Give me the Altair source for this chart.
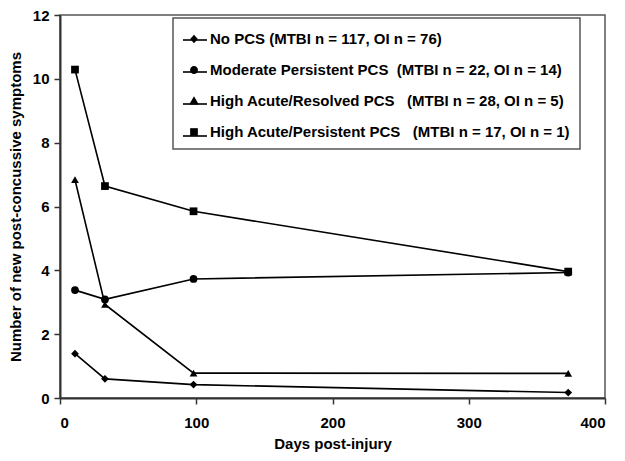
import altair as alt
import pandas as pd

days = [11, 33, 98, 373]
series_names = [
    "No PCS (MTBI n = 117, OI n = 76)",
    "Moderate Persistent PCS\u00a0\u00a0(MTBI n = 22, OI n = 14)",
    "High Acute/Resolved PCS\u00a0\u00a0\u00a0(MTBI n = 28, OI n = 5)",
    "High Acute/Persistent PCS\u00a0\u00a0\u00a0(MTBI n = 17, OI n = 1)",
]
no_pcs = [1.39, 0.60, 0.42, 0.17]
moderate = [3.38, 3.09, 3.73, 3.93]
resolved = [6.84, 2.93, 0.78, 0.77]
persistent = [10.29, 6.64, 5.85, 3.96]

point_shapes = ["diamond", "circle", "triangle-up", "square"]
legend_shapes = [
    "M0,-0.36L0.32,0L0,0.36L-0.32,0Z",
    "M-0.33,0A0.33,0.33 0 1,0 0.33,0A0.33,0.33 0 1,0 -0.33,0Z",
    "M0,-0.4L0.4,0.3L-0.4,0.3Z",
    "M-0.32,-0.32L0.32,-0.32L0.32,0.32L-0.32,0.32Z",
]

rows = []
for name, vals in zip(series_names, [no_pcs, moderate, resolved, persistent]):
    for d, v in zip(days, vals):
        rows.append({"series": name, "day": d, "value": v})
df = pd.DataFrame(rows)

FONT = "Liberation Sans"
LEG_COMMON = dict(
    title=None, orient="none", legendX=113, legendY=3,
    labelFont=FONT, labelFontSize=15, labelFontWeight="bold",
    labelLimit=500, labelOffset=4, symbolSize=576,
    rowPadding=11, padding=9,
)

x = alt.X("day:Q", title="Days post-injury",
          scale=alt.Scale(domain=[0, 400], nice=False),
          axis=alt.Axis(values=[0, 100, 200, 300, 400], labelPadding=11, titlePadding=6))
y = alt.Y("value:Q", title="Number of new post-concussive symptoms",
          scale=alt.Scale(domain=[0, 12], nice=False),
          axis=alt.Axis(values=[0, 2, 4, 6, 8, 10, 12], labelPadding=5, titlePadding=9))

base = alt.Chart(df)

lines = base.mark_line(strokeWidth=1.6).encode(
    x=x, y=y,
    color=alt.Color(
        "series:N",
        scale=alt.Scale(domain=series_names, range=["black"] * 4),
        legend=alt.Legend(
            symbolType="stroke", symbolStrokeWidth=1.6, symbolStrokeColor="black",
            labelExpr="'\u00a0'", labelColor="black", strokeColor="transparent",
            **LEG_COMMON,
        ),
    ),
)

points = base.mark_point(filled=True, color="black", opacity=1, size=60).encode(
    x=x, y=y,
    shape=alt.Shape("series:N", scale=alt.Scale(domain=series_names, range=point_shapes),
                    legend=None),
)

legend_layer = base.mark_point(filled=True, color="black", opacity=0, size=576).encode(
    x=x, y=y,
    shape=alt.Shape(
        "series:N",
        scale=alt.Scale(domain=series_names, range=legend_shapes),
        legend=alt.Legend(
            labelColor="black", symbolOpacity=1, symbolFillColor="black",
            symbolStrokeWidth=0, strokeColor="#555",
            **LEG_COMMON,
        ),
    ),
)

chart = alt.layer(lines, points, legend_layer).resolve_scale(
    shape="independent", color="independent"
).resolve_legend(shape="independent", color="independent").properties(
    width=545, height=383,
    autosize=alt.AutoSizeParams(type="none"),
    padding={"left": 52, "top": 7, "right": 12, "bottom": 54},
).configure_view(
    stroke="#555", strokeWidth=1.5
).configure_axis(
    grid=False, domainColor="#333", domainWidth=2, tickColor="#333", tickWidth=1.5,
    tickSize=6, labelFont=FONT, labelFontSize=15,
    labelFontWeight="bold", labelColor="black", titleFont=FONT, titleFontSize=15,
    titleFontWeight="bold", titleColor="black",
).configure_legend(
    strokeWidth=1.5
)

chart.save("out.html", embed_options={"renderer": "svg", "actions": False})
